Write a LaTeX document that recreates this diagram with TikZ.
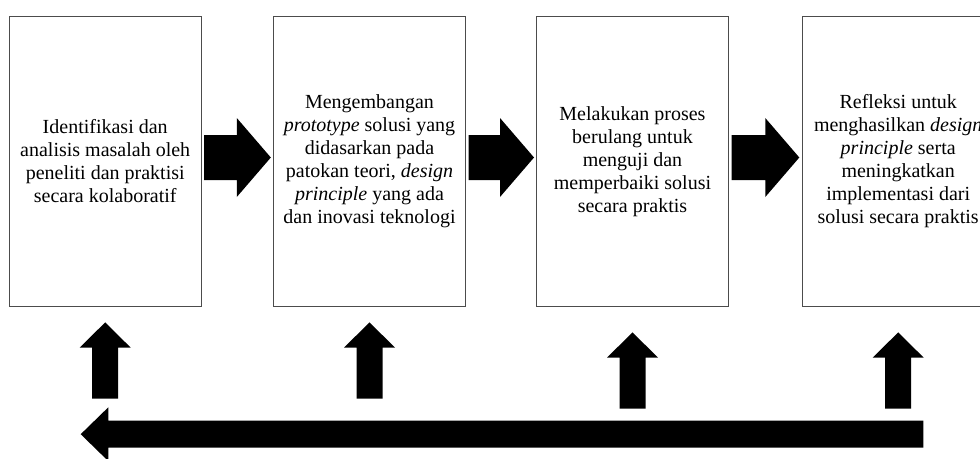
\documentclass[tikz,border=0pt]{standalone}
\usepackage{fontspec}
\setmainfont{Liberation Serif}
\usetikzlibrary{calc}

\tikzset{
  stagebox/.style={draw=black!70, line width=0.8pt, minimum width=192.4pt,
    minimum height=290.5pt, inner sep=0pt, align=center,
    font=\fontsize{20}{23}\selectfont},
}

\begin{document}
\begin{tikzpicture}[x=1pt,y=-1pt]
  \clip (0,0) rectangle (980,458);
  \fill[white] (0,0) rectangle (980,458);
  % the four stages
  \node[stagebox] (s1) at (105.2,161.2) {Identifikasi dan\\analisis masalah oleh\\peneliti dan praktisi\\secara kolaboratif};
  \node[stagebox] (s2) at (369.5,161.2) {Mengembangan\\\textit{prototype} solusi yang\\didasarkan pada\\patokan teori, \textit{design}\\\textit{principle} yang ada\\dan inovasi teknologi};
  \node[stagebox] (s3) at (632.5,161.2) {Melakukan proses\\berulang untuk\\menguji dan\\memperbaiki solusi\\secara praktis};
  \node[stagebox] (s4) at (898.2,161.2) {Refleksi untuk\\menghasilkan \textit{design}\\\textit{principle} serta\\meningkatkan\\implementasi dari\\solusi secara praktis};
  % block arrows between the stages
  \foreach \xa/\xb in {204/270.8, 468.5/534, 731.7/799.3}
    \fill (\xa,135) -- (\xb-34,135) -- (\xb-34,118) -- (\xb,157.5) -- (\xb-34,197) -- (\xb-34,180) -- (\xa,180) -- cycle;
  % up arrows under the stages
  \foreach \s/\dy in {s1/15.5, s2/15.5, s3/25.5, s4/25.5}
    \fill ($(\s.south)+(0,\dy)$) -- ++(25.5,25.3) -- ++(-12.5,0) -- ++(0,51) -- ++(-26,0) -- ++(0,-51) -- ++(-12.5,0) -- cycle;
  % long arrow back to the start
  \fill (923.3,420.7) -- (108.3,420.7) -- (108.3,407.3) -- (80.7,434.2) -- (108.3,461.1) -- (108.3,447.7) -- (923.3,447.7) -- cycle;
\end{tikzpicture}
\end{document}
